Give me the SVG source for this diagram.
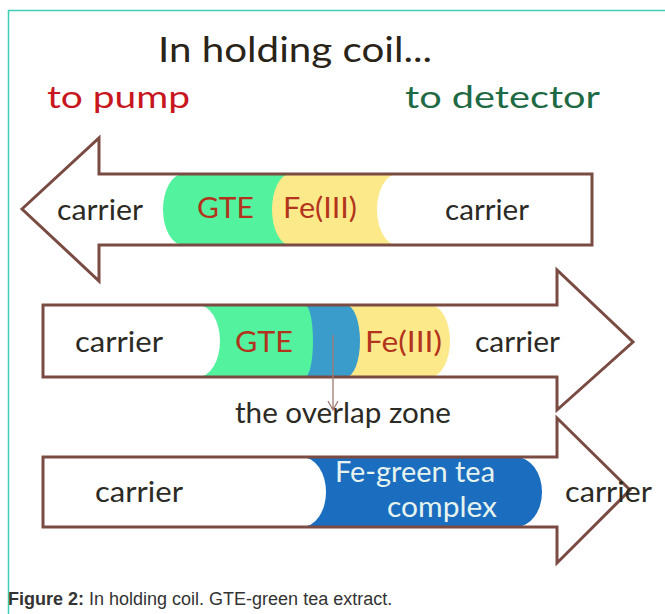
<svg xmlns="http://www.w3.org/2000/svg" width="665" height="614" viewBox="0 0 665 614">
<style>
.hand{font-family:Lato,"Open Sans","Noto Sans",sans-serif}
.car{font-size:29px;fill:#2b2a24}
.chem{font-size:29px;fill:#b3341c}
.outline{fill:none;stroke:#7a4b43;stroke-width:3;stroke-linejoin:miter}
.cap{font-family:"Liberation Sans",Arial,sans-serif;font-size:18px;fill:#333}
</style>
<defs>
<clipPath id="c1"><rect x="99" y="174" width="493" height="71"/></clipPath>
<clipPath id="c2"><rect x="43" y="305" width="514" height="72"/></clipPath>
<clipPath id="c3"><rect x="43" y="457" width="514" height="70"/></clipPath>
</defs>
<rect width="665" height="614" fill="#fff"/>
<path d="M8.5,614 V10.5 H665" fill="none" stroke="#3fcdb5" stroke-width="1.5"/>

<g id="title">
<text class="hand" x="158" y="62" font-size="35" fill="#2a2418" textLength="274" lengthAdjust="spacingAndGlyphs">In holding coil...</text>
</g>
<g id="to-pump">
<text class="hand" x="47" y="108" font-size="31" fill="#c8161e" textLength="143" lengthAdjust="spacingAndGlyphs">to pump</text>
</g>
<g id="to-detector">
<text class="hand" x="405" y="108" font-size="31" fill="#1e6a45" textLength="195" lengthAdjust="spacingAndGlyphs">to detector</text>
</g>

<g id="arrow1">
<path d="M22,209 L99,138 L99,174 L592,174 L592,245 L99,245 L99,281 Z" fill="#fff"/>
<g clip-path="url(#c1)">
<rect x="163" y="174" width="460" height="71" rx="20" ry="36" fill="#52f29f"/>
<rect x="272" y="174" width="360" height="71" rx="18" ry="36" fill="#fce98a"/>
<rect x="377" y="174" width="260" height="71" rx="20" ry="36" fill="#fff"/>
</g>
<path class="outline" d="M22,209 L99,138 L99,174 L592,174 L592,245 L99,245 L99,281 Z"/>
<text class="hand car" x="57" y="220" textLength="86" lengthAdjust="spacingAndGlyphs">carrier</text>
<text class="hand chem" x="197" y="218" textLength="57" lengthAdjust="spacingAndGlyphs">GTE</text>
<text class="hand chem" x="283" y="218" textLength="74" lengthAdjust="spacingAndGlyphs">Fe(III)</text>
<text class="hand car" x="445" y="220" textLength="84" lengthAdjust="spacingAndGlyphs">carrier</text>
</g>

<g id="arrow2">
<path d="M43,305 L557,305 L557,270 L633,342 L557,410 L557,377 L43,377 Z" fill="#fff"/>
<g clip-path="url(#c2)">
<rect x="0" y="305" width="450" height="72" rx="20" ry="36" fill="#fce98a"/>
<rect x="0" y="305" width="360" height="72" rx="14" ry="36" fill="#3a9ccb"/>
<rect x="0" y="305" width="313" height="72" rx="8" ry="36" fill="#52f29f"/>
<rect x="0" y="305" width="220" height="72" rx="22" ry="36" fill="#fff"/>
</g>
<path class="outline" d="M43,305 L557,305 L557,270 L633,342 L557,410 L557,377 L43,377 Z"/>
<text class="hand car" x="75" y="352" textLength="88" lengthAdjust="spacingAndGlyphs">carrier</text>
<text class="hand chem" x="235" y="352" textLength="58" lengthAdjust="spacingAndGlyphs">GTE</text>
<text class="hand chem" x="365" y="352" textLength="77" lengthAdjust="spacingAndGlyphs">Fe(III)</text>
<text class="hand car" x="475" y="352" textLength="85" lengthAdjust="spacingAndGlyphs">carrier</text>
</g>

<g id="arrow3">
<path d="M43,457 L557,457 L557,418 L630,490 L557,563 L557,527 L43,527 Z" fill="#fff"/>
<g clip-path="url(#c3)">
<rect x="0" y="457" width="542" height="70" rx="26" ry="35" fill="#1a6dbf"/>
<rect x="0" y="457" width="326" height="70" rx="24" ry="35" fill="#fff"/>
</g>
<path class="outline" d="M43,457 L557,457 L557,418 L630,490 L557,563 L557,527 L43,527 Z"/>
<text class="hand car" x="95" y="502" textLength="88" lengthAdjust="spacingAndGlyphs">carrier</text>
<text class="hand" x="335" y="482" font-size="28" fill="#e6f3ee" textLength="160" lengthAdjust="spacingAndGlyphs">Fe-green tea</text>
<text class="hand" x="387" y="517" font-size="28" fill="#e6f3ee" textLength="110" lengthAdjust="spacingAndGlyphs">complex</text>
<text class="hand car" x="565" y="502" textLength="87" lengthAdjust="spacingAndGlyphs">carrier</text>
</g>

<g id="connectors">
<path d="M333,335 V410 M328,401 L333,410 L338,401" fill="none" stroke="#a07a72" stroke-width="1.3"/>
</g>
<g id="overlap-label">
<text class="hand" x="235" y="423" font-size="28" fill="#2b2a24" textLength="216" lengthAdjust="spacingAndGlyphs">the overlap zone</text>
</g>

<g id="caption">
<text class="cap" x="8" y="605"><tspan font-weight="bold">Figure 2:</tspan> In holding coil. GTE-green tea extract.</text>
</g>
</svg>
